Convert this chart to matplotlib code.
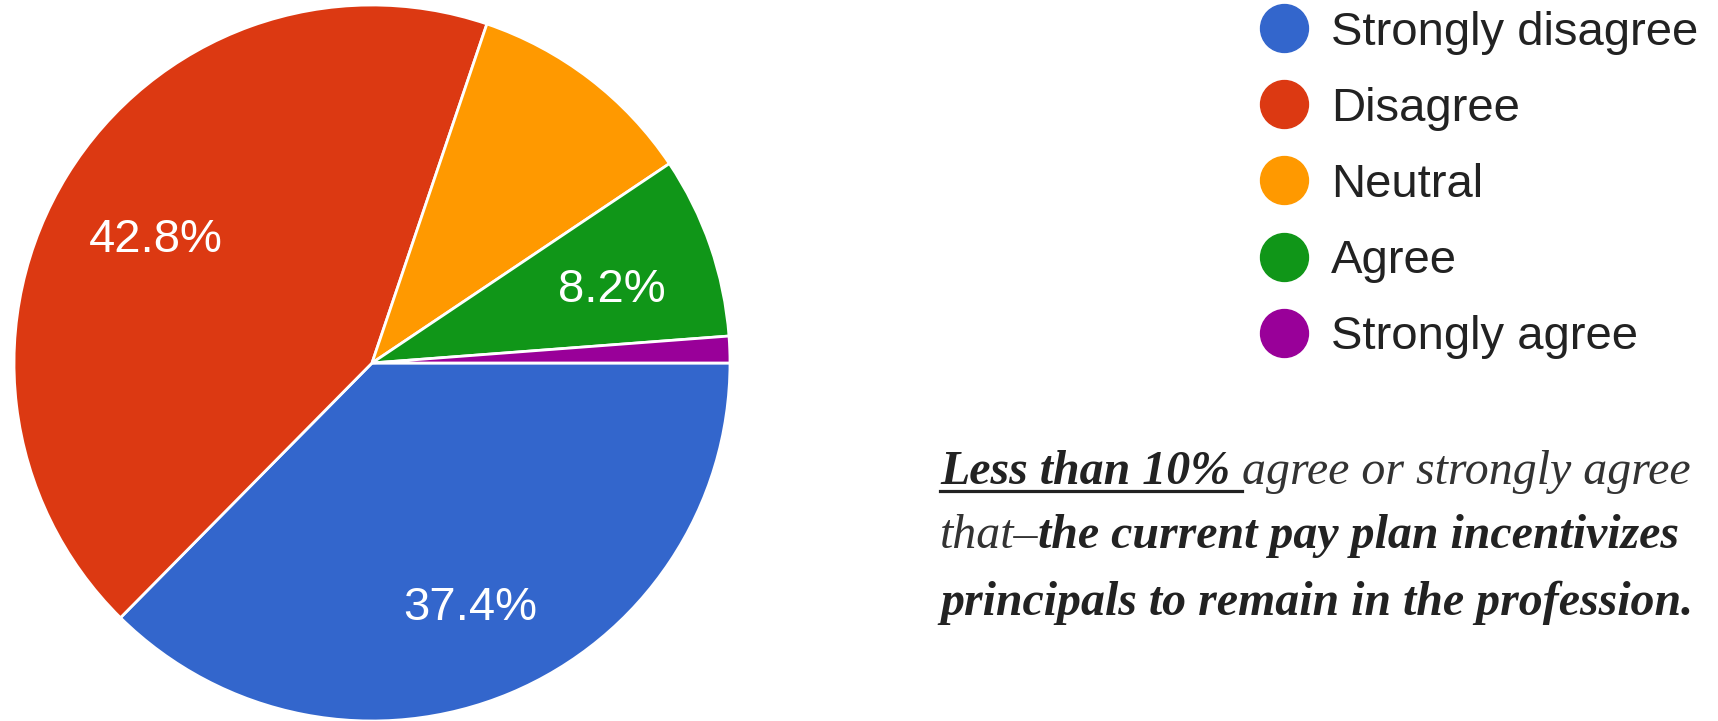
import matplotlib.pyplot as plt
from matplotlib.lines import Line2D
from matplotlib.transforms import offset_copy

# survey responses (share of respondents, %)
categories = ["Strongly disagree", "Disagree", "Neutral", "Agree", "Strongly agree"]
shares = [37.4, 42.8, 10.4, 8.2, 1.2]
colors = ["#3366CC", "#DC3912", "#FF9900", "#109618", "#990099"]
labelled = [True, True, False, True, False]

W, H = 1718, 721
fig = plt.figure(figsize=(W / 100, H / 100), dpi=100)

# pie: centre ~ (372, 363) px, radius ~ 358 px
r = 358
ax = fig.add_axes([(372 - r) / W, (H - 363 - r) / H, 2 * r / W, 2 * r / H])
ax.set_aspect("equal")

wedges, texts, autotexts = ax.pie(
    shares, colors=colors, startangle=0, counterclock=False,
    autopct="%.1f%%", pctdistance=0.71,
    wedgeprops=dict(edgecolor="white", linewidth=2),
    textprops=dict(color="white", fontsize=34, family="Liberation Sans"))
for t, show in zip(autotexts, labelled):
    t.set_visible(show)
    t.set_transform(offset_copy(t.get_transform(), fig=fig, x=0, y=-10, units="dots"))
ax.set_xlim(-1, 1)
ax.set_ylim(-1, 1)

# legend
fs = 34
fs_px = fs * 100 / 72
handles = [Line2D([], [], linestyle="none", marker="o", markersize=34.5,
                  markerfacecolor=c, markeredgecolor=c) for c in colors]
fig.legend(handles, categories, loc="upper left",
           bbox_to_anchor=((1284 - 0.5 * fs_px - 0.1 * fs_px) / W, 1 - 6 / H),
           frameon=False, prop=dict(family="Liberation Sans", size=fs),
           labelcolor="#222222", handlelength=1.0, handletextpad=0.5,
           labelspacing=0.68, borderaxespad=0, borderpad=0.1)

# annotation text, built piece by piece
renderer = fig.canvas.get_renderer()
x0 = 940
lines = [
    [("Less than 10% ", "bold", "#222222", True),
     ("agree or strongly agree", "normal", "#333333", False)],
    [("that\u2013", "normal", "#333333", False),
     ("the current pay plan incentivizes", "bold", "#222222", False)],
    [("principals to remain in the profession.", "bold", "#222222", False)],
]
baselines = [484, 548, 615]
for pieces, yb in zip(lines, baselines):
    x = x0
    for txt, weight, col, underline in pieces:
        t = fig.text(x / W, 1 - yb / H, txt, family="Liberation Serif",
                     style="italic", weight=weight, color=col, size=34.5,
                     va="baseline", ha="left")
        bb = t.get_window_extent(renderer)
        if underline:
            fig.add_artist(Line2D([x / W, (x + bb.width) / W],
                                  [1 - (yb + 7) / H, 1 - (yb + 7) / H],
                                  color="#222222", linewidth=2.3))
        x += bb.width

fig.savefig("out.png", dpi=100)
